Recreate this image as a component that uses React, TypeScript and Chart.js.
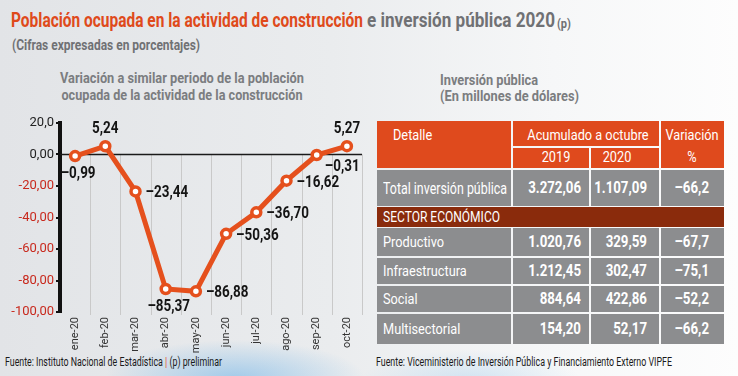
import React, { useEffect, useRef } from 'react';
import { Chart, registerables } from 'chart.js';

Chart.register(...registerables);

// ---------- data ----------
const months = ['ene-20', 'feb-20', 'mar-20', 'abr-20', 'may-20', 'jun-20', 'jul-20', 'ago-20', 'sep-20', 'oct-20'];
const variation = [-0.99, 5.24, -23.44, -85.37, -86.88, -50.36, -36.7, -16.62, -0.31, 5.27];
const variationLabels = ['–0,99', '5,24', '–23,44', '–85,37', '–86,88', '–50,36', '–36,70', '–16,62', '–0,31', '5,27'];
const labelPlacement = ['below', 'above', 'right', 'below', 'right', 'right', 'right', 'right', 'belowRight', 'above'];
const yTickValues = [20, 0, -20, -40, -60, -80, -100];
const yTickLabels = ['20,0', '0,00', '-20,00', '-40,00', '-60,00', '-80,00', '-100,00'];

const totalLabel = 'Total inversión pública';
const total2019 = '3.272,06';
const total2020 = '1.107,09';
const totalVar = '–66,2';
const sectorNames = ['Productivo', 'Infraestructura', 'Social', 'Multisectorial'];
const sector2019 = ['1.020,76', '1.212,45', '884,64', '154,20'];
const sector2020 = ['329,59', '302,47', '422,86', '52,17'];
const sectorVar = ['–67,7', '–75,1', '–52,2', '–66,2'];

// ---------- helpers ----------
const FAMILY = 'Roboto';
let measureCtx: CanvasRenderingContext2D | null = null;
function textWidth(text: string, font: string) {
  if (!measureCtx) measureCtx = document.createElement('canvas').getContext('2d');
  measureCtx!.font = font;
  return measureCtx!.measureText(text).width;
}

type TP = {
  x: number; cy: number; size: number; weight?: number; color: string;
  sx?: number; w?: number; align?: 'left' | 'center' | 'right';
  text?: string; children: React.ReactNode;
};
function T({ x, cy, size, weight = 400, color, sx, w, align = 'left', text, children }: TP) {
  let s = sx ?? 1;
  if (w) {
    const str = text ?? (typeof children === 'string' ? children : '');
    s = w / textWidth(str, `${weight} ${size}px ${FAMILY}`);
  }
  const origin = align === 'left' ? 'left top' : align === 'center' ? 'center top' : 'right top';
  const tr = align === 'left' ? `scaleX(${s})` : align === 'center' ? `translateX(-50%) scaleX(${s})` : `translateX(-100%) scaleX(${s})`;
  return (
    <div style={{
      position: 'absolute', left: x, top: cy - size / 2, fontFamily: FAMILY, fontSize: size,
      fontWeight: weight, color, lineHeight: `${size}px`, whiteSpace: 'nowrap',
      transform: tr, transformOrigin: origin,
    }}>{children}</div>
  );
}

function Rect({ x1, y1, x2, y2, c }: { x1: number; y1: number; x2: number; y2: number; c: string }) {
  return <div style={{ position: 'absolute', left: x1, top: y1, width: x2 - x1, height: y2 - y1, background: c }} />;
}

// ---------- chart ----------
const gridPlugin = {
  id: 'customGrid',
  beforeDatasetsDraw(chart: any) {
    const { ctx, chartArea } = chart;
    const xs = chart.scales.x;
    const ys = chart.scales.y;
    const y0 = ys.getPixelForValue(0);
    const yb = ys.getPixelForValue(-100);
    ctx.save();
    ctx.strokeStyle = '#c9c9c9';
    ctx.lineWidth = 1;
    for (let i = 1; i <= months.length; i++) {
      const x = i < months.length ? (xs.getPixelForValue(i - 1) + xs.getPixelForValue(i)) / 2 : chartArea.right;
      ctx.beginPath();
      ctx.moveTo(Math.round(x) + 0.5, y0);
      ctx.lineTo(Math.round(x) + 0.5, yb + 3);
      ctx.stroke();
    }
    ctx.strokeStyle = '#1a1a1a';
    ctx.lineWidth = 1.5;
    ctx.beginPath();
    ctx.moveTo(chartArea.left, y0);
    ctx.lineTo(chartArea.right, y0);
    ctx.stroke();
    ctx.restore();
  },
};

const labelPlugin = {
  id: 'valueLabels',
  afterDatasetsDraw(chart: any) {
    const ctx = chart.ctx;
    const meta = chart.getDatasetMeta(0);
    meta.data.forEach((pt: any, i: number) => {
      const place = labelPlacement[i];
      let ax = pt.x, ay = pt.y;
      let align: CanvasTextAlign = 'center';
      if (place === 'below') { ax += 3; ay += 18; }
      else if (place === 'above') { ay -= 17; }
      else if (place === 'right') { ax += 10; ay += 2; align = 'left'; }
      else if (place === 'belowRight') { ax += 8; ay += 12; align = 'left'; }
      ctx.save();
      ctx.translate(ax, ay);
      ctx.scale(0.84, 1);
      ctx.font = `bold 16px ${FAMILY}`;
      ctx.fillStyle = '#141414';
      ctx.textAlign = align;
      ctx.textBaseline = 'middle';
      ctx.fillText(variationLabels[i], 0, 0);
      ctx.restore();
    });
  },
};

function LineChart() {
  const ref = useRef<HTMLCanvasElement | null>(null);
  useEffect(() => {
    if (!ref.current) return;
    const chart = new Chart(ref.current, {
      type: 'line',
      data: {
        labels: months,
        datasets: [{
          data: variation,
          borderColor: '#e5501d',
          borderWidth: 5,
          pointRadius: 4.5,
          pointBorderWidth: 3.5,
          pointBackgroundColor: '#ffffff',
          pointBorderColor: '#e5501d',
          tension: 0,
        }],
      },
      options: {
        animation: false,
        responsive: false,
        maintainAspectRatio: false,
        layout: { padding: { top: 18, right: 8, left: 0, bottom: 0 } },
        plugins: { legend: { display: false }, tooltip: { enabled: false } },
        scales: {
          x: {
            offset: true,
            grid: { display: false, drawTicks: false },
            border: { display: false },
            ticks: {
              autoSkip: false, minRotation: 90, maxRotation: 90, padding: 5,
              color: '#333333', font: { family: FAMILY, size: 11 },
            },
            afterFit: (s: any) => { s.height = 43; },
          },
          y: {
            min: -100, max: 20,
            ticks: {
              stepSize: 20, padding: 2,
              callback: (v: any) => { const k = yTickValues.indexOf(Number(v)); return k >= 0 ? yTickLabels[k] : ''; },
              color: (c: any) => (c.tick && c.tick.value >= 0 ? '#222222' : '#c8291d'),
              font: { family: FAMILY, size: 13 },
            },
            border: { display: true, color: '#111111', width: 4 },
            grid: { drawOnChartArea: false, drawTicks: true, tickLength: 4, color: '#111111', lineWidth: 2 },
            afterFit: (s: any) => { s.width = 60; },
          },
        },
      },
      plugins: [gridPlugin, labelPlugin],
    });
    return () => chart.destroy();
  }, []);
  return <canvas ref={ref} width={370} height={250} style={{ position: 'absolute', left: 0, top: 105, width: 370, height: 250 }} />;
}

// ---------- table ----------
const ORANGE = '#df4a1d';
const GREY = '#8c8d8f';
const DARK = '#8a2b0c';
const cols = [377, 511, 513, 589, 591, 659, 661, 724];
const bodyRows: [number, number][] = [[228, 256], [258, 284], [286, 312], [314, 344]];

function Table() {
  const cells: React.ReactNode[] = [];
  cells.push(<Rect key="h1" x1={cols[0]} y1={121} x2={cols[1]} y2={168} c={ORANGE} />);
  cells.push(<Rect key="h2" x1={cols[2]} y1={121} x2={cols[5]} y2={146} c={ORANGE} />);
  cells.push(<Rect key="h3" x1={cols[2]} y1={148} x2={cols[3]} y2={168} c={ORANGE} />);
  cells.push(<Rect key="h4" x1={cols[4]} y1={148} x2={cols[5]} y2={168} c={ORANGE} />);
  cells.push(<Rect key="h5" x1={cols[6]} y1={121} x2={cols[7]} y2={168} c={ORANGE} />);
  for (let k = 0; k < 4; k++) cells.push(<Rect key={'t' + k} x1={cols[k * 2]} y1={170} x2={cols[k * 2 + 1]} y2={206} c={GREY} />);
  cells.push(<Rect key="s" x1={cols[0]} y1={207} x2={cols[7]} y2={227} c={DARK} />);
  bodyRows.forEach(([a, b], r) => {
    for (let k = 0; k < 4; k++) cells.push(<Rect key={`b${r}${k}`} x1={cols[k * 2]} y1={a} x2={cols[k * 2 + 1]} y2={b} c={GREY} />);
  });
  const W = '#ffffff';
  return (
    <>
      {cells}
      <T x={393} cy={135} size={15} color={W} sx={0.85}>Detalle</T>
      <T x={588} cy={135} size={15} color={W} sx={0.85} align="center">Acumulado a octubre</T>
      <T x={692} cy={135} size={15} color={W} sx={0.85} align="center">Variación</T>
      <T x={556} cy={157} size={15} color={W} sx={0.85} align="center">2019</T>
      <T x={617} cy={157} size={15} color={W} sx={0.85} align="center">2020</T>
      <T x={692} cy={157} size={15} color={W} sx={0.85} align="center">%</T>

      <T x={383} cy={188} size={17} color={W} w={124}>{totalLabel}</T>
      <T x={581} cy={188} size={16} weight={700} color={W} sx={0.83} align="right">{total2019}</T>
      <T x={647} cy={188} size={16} weight={700} color={W} sx={0.83} align="right">{total2020}</T>
      <T x={709} cy={188} size={16} weight={700} color={W} sx={0.83} align="right">{totalVar}</T>

      <T x={383} cy={217} size={14} color={W} w={117}>SECTOR ECONÓMICO</T>

      {sectorNames.map((n, r) => {
        const cy = (bodyRows[r][0] + bodyRows[r][1]) / 2;
        return (
          <React.Fragment key={n}>
            <T x={383} cy={cy} size={15} color={W} sx={0.85}>{n}</T>
            <T x={581} cy={cy} size={16} weight={700} color={W} sx={0.83} align="right">{sector2019[r]}</T>
            <T x={647} cy={cy} size={16} weight={700} color={W} sx={0.83} align="right">{sector2020[r]}</T>
            <T x={709} cy={cy} size={16} weight={700} color={W} sx={0.83} align="right">{sectorVar[r]}</T>
          </React.Fragment>
        );
      })}
    </>
  );
}

export default function App() {
  const GREYTXT = '#707174';
  const footLeft = 'Fuente: Instituto Nacional de Estadística | (p) preliminar';
  return (
    <div style={{
      position: 'fixed', left: 0, top: 0, width: 738, height: 376, overflow: 'hidden',
      background: 'radial-gradient(ellipse 130px 38px at 235px 378px, rgba(80,165,230,0.45), rgba(80,165,230,0) 100%), radial-gradient(ellipse 110px 30px at 470px 380px, rgba(80,165,230,0.2), rgba(80,165,230,0) 100%), linear-gradient(90deg, #e2e4e7 0%, #eaecee 45%, #f6f7f8 75%, #fdfdfd 100%)',
    }}>
      <T x={11} cy={20} size={21} weight={700} color="#df4a1b" w={352}>Población ocupada en la actividad de construcción</T>
      <T x={367} cy={20} size={21} weight={700} color={GREYTXT} w={188}>e inversión pública 2020</T>
      <T x={557} cy={23} size={13} weight={700} color={GREYTXT} w={14}>(p)</T>
      <T x={12} cy={45} size={14} weight={700} color={GREYTXT} w={188}>(Cifras expresadas en porcentajes)</T>

      <T x={182} cy={78.5} size={15} weight={700} color="#7b7d80" w={244} align="center">Variación a similar periodo de la población</T>
      <T x={182} cy={95} size={15} weight={700} color="#7b7d80" w={241} align="center">ocupada de la actividad de la construcción</T>

      <T x={440} cy={80.5} size={15} weight={700} color="#7b7d80" w={98}>Inversión pública</T>
      <T x={440} cy={96.5} size={15} weight={700} color="#7b7d80" w={139}>(En millones de dólares)</T>

      <LineChart />
      <Table />

      <T x={5} cy={362} size={12} color="#1a1a1a" w={217} text={footLeft}>
        Fuente: Instituto Nacional de Estadística <span style={{ color: '#e0461b' }}>|</span> (p) preliminar
      </T>
      <T x={376} cy={362} size={12} color="#1a1a1a" w={296}>Fuente: Viceministerio de Inversión Pública y Financiamiento Externo VIPFE</T>
    </div>
  );
}
